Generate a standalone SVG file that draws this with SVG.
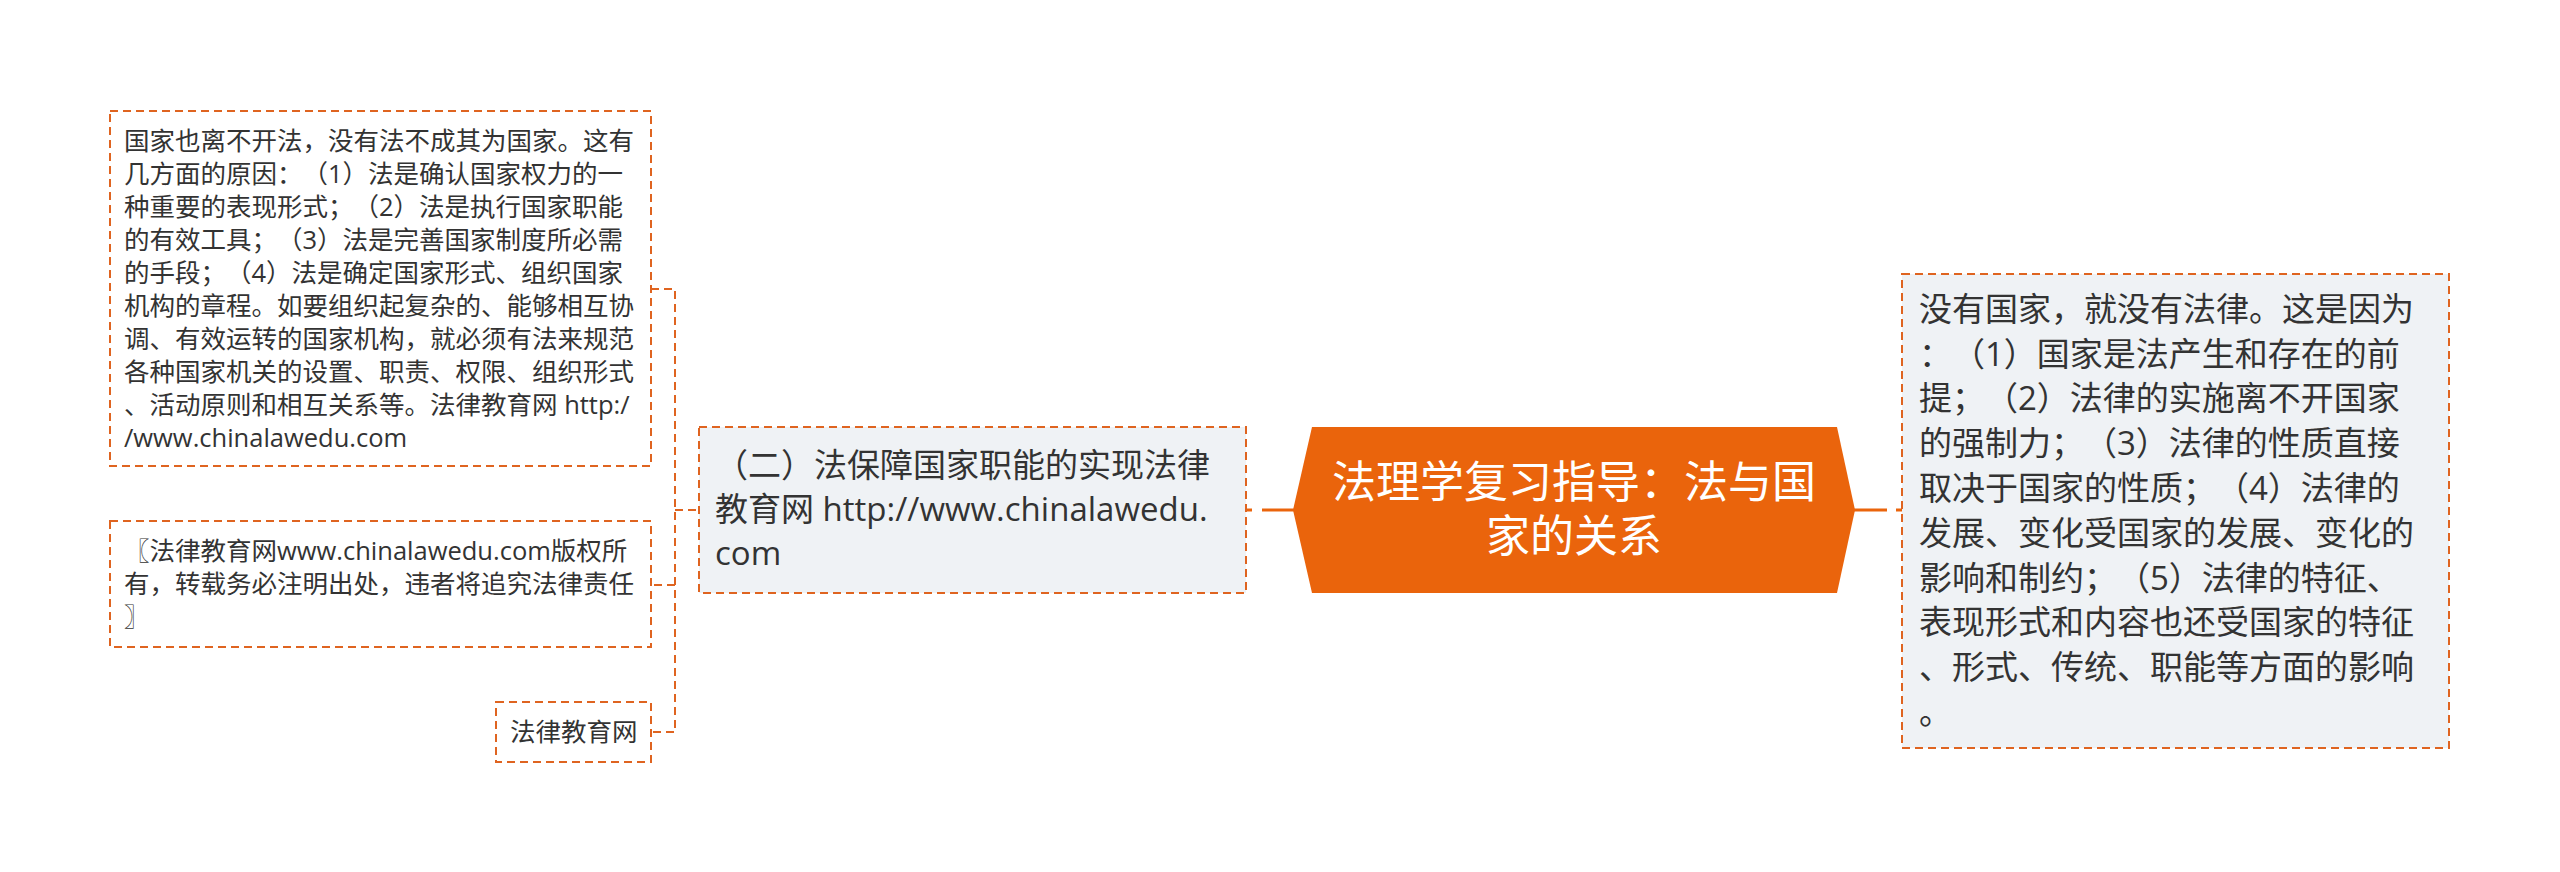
<svg xmlns="http://www.w3.org/2000/svg" width="2560" height="872" viewBox="0 0 2560 872">
<style>
.bg{fill:#ffffff}
.box{stroke:#DF6420;stroke-width:2;stroke-dasharray:8 5}
.wbox{fill:#ffffff}
.gbox{fill:#EFF2F5}
.conn{fill:none;stroke:#DF6420;stroke-width:2;stroke-dasharray:8 5}
.solid{fill:none;stroke:#EA640C;stroke-width:3}
text{text-spacing-trim:space-all}
.t{font-family:"Open Sans","Noto Sans CJK SC",sans-serif;fill:#333333}
.s{font-size:25.5px}
.m{font-size:33px}
.c{font-family:"Noto Sans CJK SC",sans-serif;font-size:44px;fill:#ffffff;text-anchor:middle}
</style>
<rect class="bg" x="0" y="0" width="2560" height="872"/>
<g id="connectors">
<path class="conn" d="M651,289 H675 V732 H651"/>
<path class="conn" d="M675,585 H651"/>
<path class="conn" d="M675,510 H699"/>
<path class="solid" d="M1262,510 H1294"/>
<path class="solid" d="M1246,510 H1252"/>
<path class="solid" d="M1854,510 H1887"/>
<path class="solid" d="M1896,510 H1902"/>
</g>
<g id="center">
<polygon points="1293,510 1312,427 1837,427 1855,510 1837,593 1312,593" fill="#EA640C"/>
<text class="c" x="1574" y="498">法理学复习指导：法与国</text>
<text class="c" x="1574" y="552">家的关系</text>
</g>
<g id="node-right">
<rect class="box gbox" x="1902" y="274" width="547" height="474"/>
<text class="t m" x="1919" y="321">没有国家，就没有法律。这是因为</text>
<text class="t m" x="1919" y="366">：（1）国家是法产生和存在的前</text>
<text class="t m" x="1919" y="410">提；（2）法律的实施离不开国家</text>
<text class="t m" x="1919" y="455">的强制力；（3）法律的性质直接</text>
<text class="t m" x="1919" y="500">取决于国家的性质；（4）法律的</text>
<text class="t m" x="1919" y="545">发展、变化受国家的发展、变化的</text>
<text class="t m" x="1919" y="590">影响和制约；（5）法律的特征、</text>
<text class="t m" x="1919" y="634">表现形式和内容也还受国家的特征</text>
<text class="t m" x="1919" y="679">、形式、传统、职能等方面的影响</text>
<text class="t m" x="1919" y="724">。</text>
</g>
<g id="node-left">
<rect class="box gbox" x="699" y="427" width="547" height="166"/>
<text class="t m" x="715" y="477">（二）法保障国家职能的实现法律</text>
<text class="t m" x="715" y="521">教育网 http://www.chinalawedu.</text>
<text class="t m" x="715" y="565">com</text>
</g>
<g id="leaf-1">
<rect class="box wbox" x="110" y="111" width="541" height="355"/>
<text class="t s" x="124" y="149.5">国家也离不开法，没有法不成其为国家。这有</text>
<text class="t s" x="124" y="182.5">几方面的原因：（1）法是确认国家权力的一</text>
<text class="t s" x="124" y="215.5">种重要的表现形式；（2）法是执行国家职能</text>
<text class="t s" x="124" y="248.5">的有效工具；（3）法是完善国家制度所必需</text>
<text class="t s" x="124" y="281.5">的手段；（4）法是确定国家形式、组织国家</text>
<text class="t s" x="124" y="314.5">机构的章程。如要组织起复杂的、能够相互协</text>
<text class="t s" x="124" y="347.5">调、有效运转的国家机构，就必须有法来规范</text>
<text class="t s" x="124" y="380.5">各种国家机关的设置、职责、权限、组织形式</text>
<text class="t s" x="124" y="413.5">、活动原则和相互关系等。法律教育网 http:/</text>
<text class="t s" x="124" y="446.5">/www.chinalawedu.com</text>
</g>
<g id="leaf-2">
<rect class="box wbox" x="110" y="521" width="541" height="126"/>
<text class="t s" x="124" y="560">〖法律教育网www.chinalawedu.com版权所</text>
<text class="t s" x="124" y="593">有，转载务必注明出处，违者将追究法律责任</text>
<text class="t s" x="124" y="626">〗</text>
</g>
<g id="leaf-3">
<rect class="box wbox" x="496" y="702" width="155" height="60"/>
<text class="t s" x="510" y="741">法律教育网</text>
</g>
</svg>
